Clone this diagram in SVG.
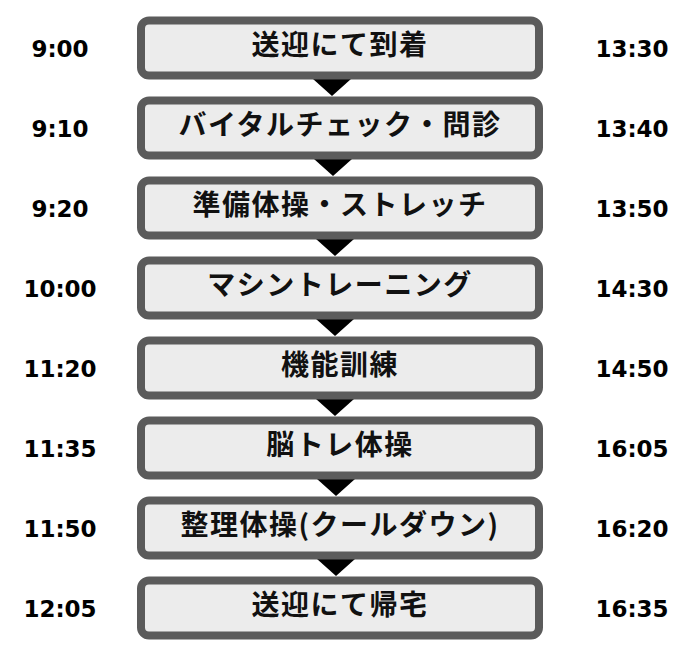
<svg xmlns="http://www.w3.org/2000/svg" width="694" height="666" viewBox="0 0 694 666">
<style>
.box{fill:#ececec;stroke:#5b5b5b;stroke-width:8}
.lbl{font-family:"Noto Sans CJK JP","Noto Sans",sans-serif;font-weight:bold;font-size:28px;letter-spacing:1.5px;fill:#111;text-anchor:middle}
.tm{font-family:"DejaVu Sans",Verdana,sans-serif;font-weight:bold;font-size:23px;fill:#000;text-anchor:middle}
.arr{fill:#000}
</style>
<rect width="694" height="666" fill="#fff"/>
<g id="connectors">
<polygon class="arr" points="313,79 351,79 332,96"/>
<polygon class="arr" points="314,159 352,159 333,176"/>
<polygon class="arr" points="316,239 354,239 335,256"/>
<polygon class="arr" points="316,319 354,319 335,336"/>
<polygon class="arr" points="316,399 354,399 335,416"/>
<polygon class="arr" points="317,479 355,479 336,496"/>
<polygon class="arr" points="317,559 355,559 336,576"/>
</g>
<g id="n1"><rect class="box" x="141" y="20.5" width="398" height="55" rx="8"/><text class="lbl" x="340" y="54.5">送迎にて到着</text></g>
<g id="n2"><rect class="box" x="141" y="100.5" width="398" height="55" rx="8"/><text class="lbl" x="340" y="134.5">バイタルチェック・問診</text></g>
<g id="n3"><rect class="box" x="141" y="180.5" width="398" height="55" rx="8"/><text class="lbl" x="340" y="214.5">準備体操・ストレッチ</text></g>
<g id="n4"><rect class="box" x="141" y="260.5" width="398" height="55" rx="8"/><text class="lbl" x="340" y="294.5">マシントレーニング</text></g>
<g id="n5"><rect class="box" x="141" y="340.5" width="398" height="55" rx="8"/><text class="lbl" x="340" y="374.5">機能訓練</text></g>
<g id="n6"><rect class="box" x="141" y="420.5" width="398" height="55" rx="8"/><text class="lbl" x="340" y="454.5">脳トレ体操</text></g>
<g id="n7"><rect class="box" x="141" y="500.5" width="398" height="55" rx="8"/><text class="lbl" x="340" y="534.5">整理体操(クールダウン)</text></g>
<g id="n8"><rect class="box" x="141" y="580.5" width="398" height="55" rx="8"/><text class="lbl" x="340" y="614.5">送迎にて帰宅</text></g>
<g id="times-left">
<text class="tm" x="60" y="57">9:00</text>
<text class="tm" x="60" y="137">9:10</text>
<text class="tm" x="60" y="217">9:20</text>
<text class="tm" x="60" y="297">10:00</text>
<text class="tm" x="60" y="377">11:20</text>
<text class="tm" x="60" y="457">11:35</text>
<text class="tm" x="60" y="537">11:50</text>
<text class="tm" x="60" y="617">12:05</text>
</g>
<g id="times-right">
<text class="tm" x="632" y="57">13:30</text>
<text class="tm" x="632" y="137">13:40</text>
<text class="tm" x="632" y="217">13:50</text>
<text class="tm" x="632" y="297">14:30</text>
<text class="tm" x="632" y="377">14:50</text>
<text class="tm" x="632" y="457">16:05</text>
<text class="tm" x="632" y="537">16:20</text>
<text class="tm" x="632" y="617">16:35</text>
</g>
</svg>
